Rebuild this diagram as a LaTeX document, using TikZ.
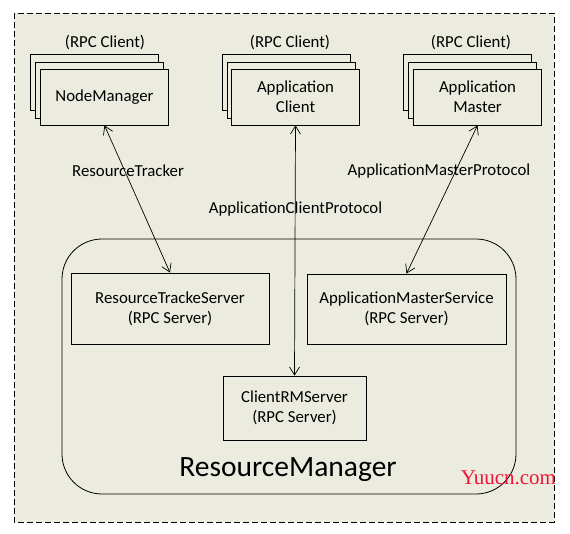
\documentclass[tikz,border=0pt]{standalone}
\usepackage{fontspec}
\setmainfont{Carlito}
\newfontfamily\markfont{Liberation Serif}
\usetikzlibrary{arrows.meta}
\definecolor{panel}{RGB}{236,235,224}
\definecolor{markred}{RGB}{240,20,50}

\begin{document}
\begin{tikzpicture}[x=1pt,y=-1pt,
    font=\fontsize{16.8}{20}\selectfont,
    box/.style={draw, fill=panel, line width=0.8pt, minimum width=128pt, minimum height=56pt, align=center, inner sep=0pt},
    server/.style={draw, line width=0.8pt, align=center, inner sep=0pt},
    link/.style={<->, >={Straight Barb[length=8pt,width=10pt]}, line width=0.7pt}]
  \useasboundingbox (0,0) rectangle (570,533);
  \draw [dash pattern=on 6pt off 3pt, line width=0.8pt, fill=panel] (14,13) rectangle (554,522);
  % clients, each one a stack of three boxes
  \node [box] (nm3) at (94.5,82) {};
  \node [box] (nm2) at (99.5,90) {};
  \node [box] (nm) at (104.5,97) {\raisebox{-1pt}{NodeManager}};
  \node (nmrpc) at (105,43) {(RPC Client)};
  \node [box] (ac3) at (286.5,82) {};
  \node [box] (ac2) at (291,90) {};
  \node [box] (ac) at (295.5,97) {Application\\Client};
  \node (acrpc) at (290,43) {(RPC Client)};
  \node [box] (am3) at (467.5,82) {};
  \node [box] (am2) at (472.5,90) {};
  \node [box] (am) at (477.5,97) {Application\\Master};
  \node (amrpc) at (471,43) {(RPC Client)};
  % resource manager
  \draw [line width=0.8pt, rounded corners=40pt] (62,239) rectangle (516,494);
  \node [server, minimum width=198pt, minimum height=71pt] (rts) at (170,308.5) {ResourceTrackeServer\\(RPC Server)};
  \node [server, minimum width=199pt, minimum height=70pt] (ams) at (406.5,309) {ApplicationMasterService\\(RPC Server)};
  \node [server, minimum width=143pt, minimum height=64pt] (crm) at (294.5,408) {ClientRMServer\\(RPC Server)};
  \node [font=\fontsize{29.5}{30}\selectfont] (rmname) at (288,470) {ResourceManager};
  % protocols
  \draw [link] (nm.south) -- (rts.north);
  \draw [link] (ac.south) -- (crm.north);
  \draw [link] (am.south) -- (ams.north);
  \node (rtlabel) at (128,171) {ResourceTracker};
  \node (aclabel) at (295.5,209) {ApplicationClientProtocol};
  \node (amlabel) at (439,171) {ApplicationMasterProtocol};
  \node [font=\markfont\fontsize{21}{21}\selectfont, text=markred] (mark) at (508.5,478) {Yuucn.com};
\end{tikzpicture}
\end{document}
